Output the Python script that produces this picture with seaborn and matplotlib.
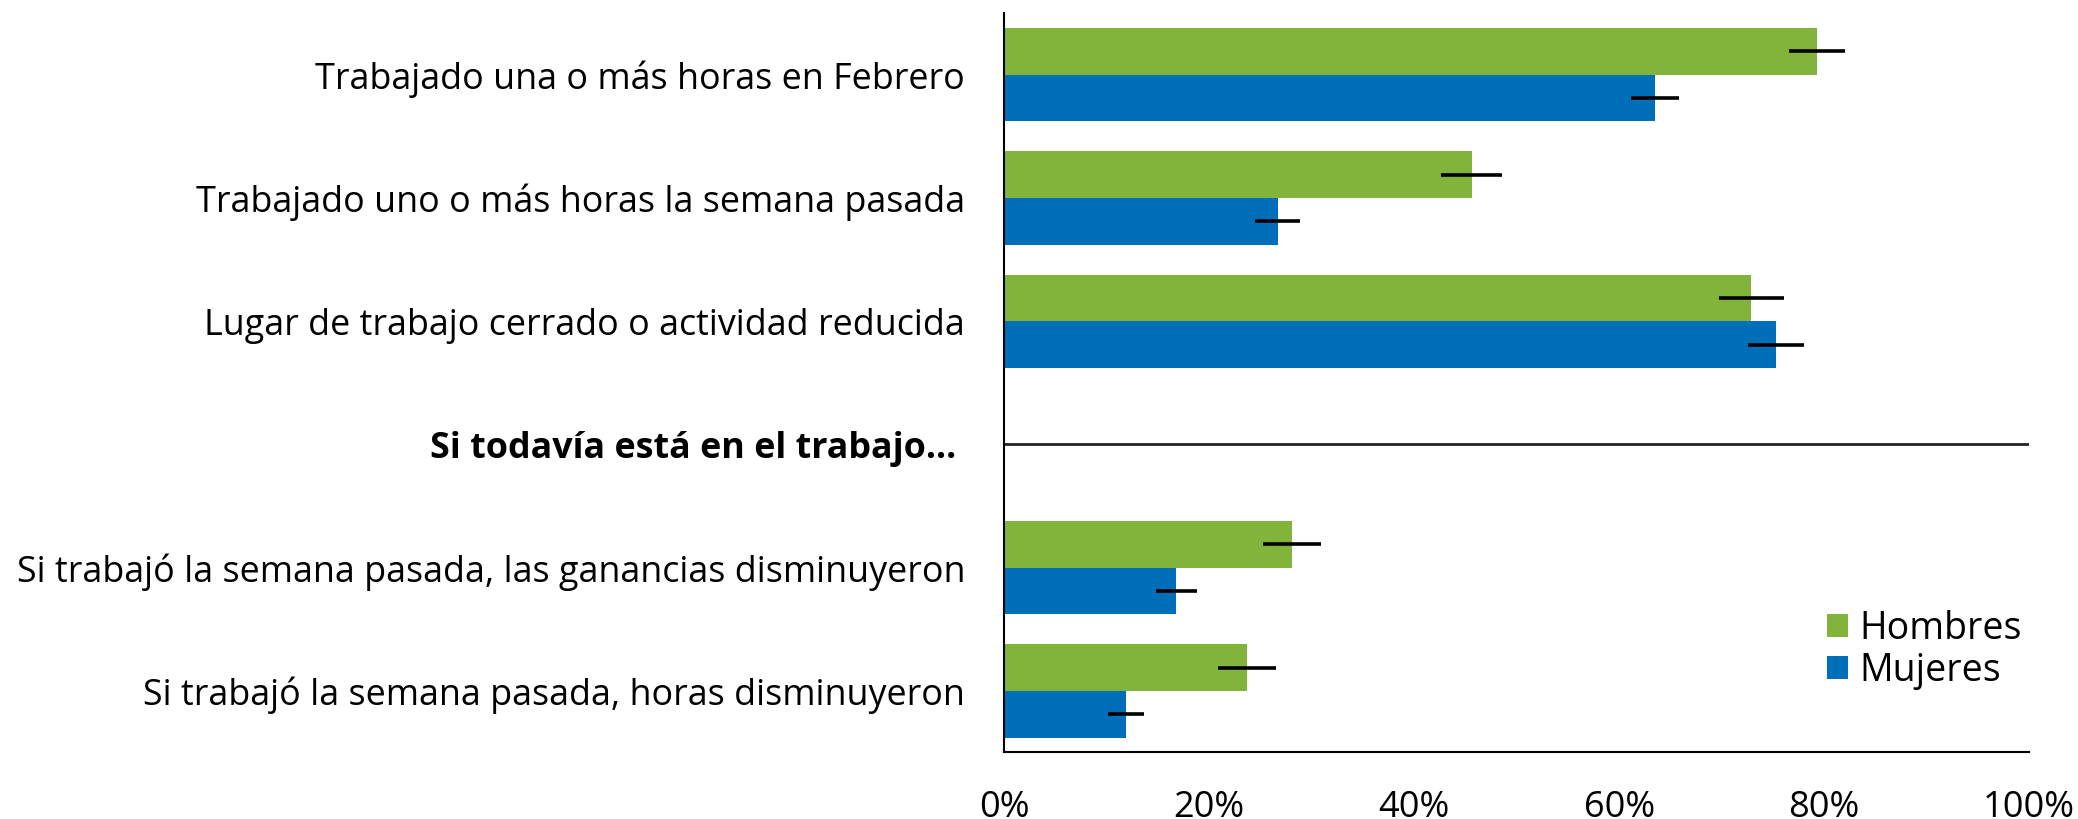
import pandas as pd
import matplotlib
matplotlib.use("Agg")
import matplotlib.pyplot as plt
import seaborn as sns

#data
categories = [
    "Trabajado una o más horas en Febrero",
    "Trabajado uno o más horas la semana pasada",
    "Lugar de trabajo cerrado o actividad reducida",
    "Si todavía está en el trabajo... ",
    "Si trabajó la semana pasada, las ganancias disminuyeron",
    "Si trabajó la semana pasada, horas disminuyeron",
]
header = categories[3]
bar_cats = [c for c in categories if c != header]
hombres = [79.3, 45.6, 72.9, 28.1, 23.7]
mujeres = [63.5, 26.7, 75.3, 16.8, 11.9]
hombres_err = [2.7, 3.0, 3.2, 2.85, 2.8]
mujeres_err = [2.3, 2.2, 2.7, 2.0, 1.75]
series = ["Hombres", "Mujeres"]
xticks = [0, 20, 40, 60, 80, 100]

colors = {"Hombres": "#82B43C", "Mujeres": "#006FB9"}

df = pd.DataFrame({
    "cat": bar_cats * 2,
    "sexo": ["Hombres"] * 5 + ["Mujeres"] * 5,
    "valor": hombres + mujeres,
    "err": hombres_err + mujeres_err,
})

sns.set_style("white")
plt.rcParams["font.family"] = ["Open Sans", "DejaVu Sans"]
plt.rcParams["text.color"] = "black"

fig = plt.figure(figsize=(20.78, 8.19), dpi=100)
ax = fig.add_axes([0.4832, 0.0812, 0.4933, 0.9028])

width = 0.757
sns.barplot(data=df, y="cat", x="valor", hue="sexo", order=categories,
            hue_order=series, palette=colors, orient="h", width=width,
            saturation=1, errorbar=None, linewidth=0, ax=ax)

#error bars
for k, s in enumerate(series):
    sub = df[df["sexo"] == s]
    ypos = [categories.index(c) + (k - 0.5) * width / 2 for c in sub["cat"]]
    ax.errorbar(sub["valor"], ypos, xerr=sub["err"], fmt="none",
                ecolor="black", elinewidth=2.6, capsize=0)

ax.axhline(3, color="#222222", lw=2)

ax.set_xlim(0, 100)
ax.set_ylim(5.5, -0.5)
ax.set_xticks(xticks)
ax.set_xticklabels([f"{t}%" for t in xticks])
ax.set_xlabel("")
ax.set_ylabel("")
ax.tick_params(axis="x", direction="in", length=12, width=1.2, pad=27,
               labelsize=26, colors="black")
ax.tick_params(axis="y", length=0, pad=28, labelsize=25.8, labelcolor="black")
for lab in ax.get_yticklabels():
    if lab.get_text() == header:
        lab.set_fontweight("bold")

for side in ["top", "right"]:
    ax.spines[side].set_visible(False)
for side in ["left", "bottom"]:
    ax.spines[side].set_color("black")
    ax.spines[side].set_linewidth(1.5)

ax.legend(loc="upper left", bbox_to_anchor=(0.803, 0.193), frameon=False,
          fontsize=27, handlelength=0.55, handleheight=0.55,
          handletextpad=0.3, labelspacing=0.1, borderaxespad=0,
          borderpad=0)

fig.savefig("out.png", dpi=100)
